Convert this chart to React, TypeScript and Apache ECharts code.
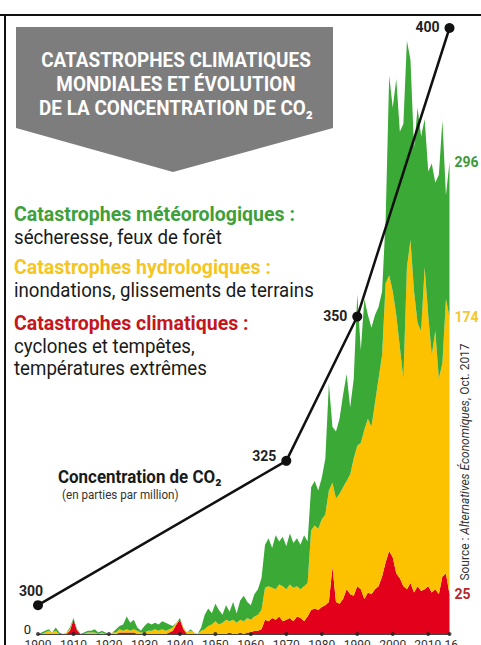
import React, { useEffect, useRef } from "react";
import * as echarts from "echarts";

const years: string[] = Array.from({ length: 117 }, (_, i) => String(1900 + i));

// Catastrophes climatiques (cyclones, tempêtes, températures extrêmes)
const climatiques = [
  0, 0, 0, 0, 0, 0, 0, 0, 0, 2,
  9, 2, 0, 0, 0, 0, 0, 0, 0, 0,
  0, 0, 0, 1, 1, 1, 1, 1, 0, 0,
  0, 0, 0, 0, 0, 0, 0, 1, 2, 6,
  9, 3, 0, 0, 0, 0, 0, 0, 0, 0,
  0, 0, 0, 0, 1, 0, 0, 1, 0, 1,
  1, 2, 2, 3, 9, 8, 10, 9, 11, 8,
  9, 10, 8, 11, 10, 8, 11, 15, 16, 15,
  17, 18, 20, 42, 20, 19, 22, 28, 25, 24,
  30, 28, 22, 26, 25, 28, 30, 36, 45, 52,
  48, 38, 35, 30, 28, 32, 26, 30, 27, 28,
  30, 26, 28, 25, 36, 38, 25,
];

// Catastrophes hydrologiques (inondations, glissements de terrains)
const hydrologiques = [
  0, 0, 1, 2, 1, 2, 0, 0, 1, 1,
  0, 0, 0, 0, 1, 1, 1, 0, 1, 0,
  0, 1, 1, 2, 1, 2, 1, 2, 2, 1,
  1, 2, 2, 3, 2, 3, 2, 2, 2, 1,
  0, 1, 1, 2, 1, 0, 2, 3, 5, 6,
  8, 6, 7, 9, 7, 9, 7, 8, 8, 9,
  8, 9, 10, 12, 20, 22, 19, 19, 20, 22,
  19, 21, 21, 19, 18, 22, 21, 50, 52, 51,
  55, 57, 70, 53, 65, 69, 70, 68, 75, 86,
  88, 92, 106, 109, 105, 117, 130, 139, 175, 173,
  167, 162, 145, 130, 202, 215, 189, 165, 163, 202,
  170, 149, 162, 135, 134, 172, 174,
];

// Catastrophes météorologiques (sécheresse, feux de forêt)
const meteorologiques = [
  0, 1, 1, 1, 0, 2, 1, 0, 0, 1,
  1, 1, 0, 1, 1, 1, 2, 1, 1, 1,
  0, 0, 2, 2, 4, 8, 5, 6, 2, 1,
  4, 5, 4, 4, 4, 5, 5, 3, 1, 0,
  1, 0, 0, 1, 0, 0, 2, 9, 11, 7,
  11, 9, 5, 9, 6, 11, 6, 12, 16, 10,
  9, 14, 16, 20, 27, 30, 25, 34, 27, 31,
  27, 32, 28, 30, 28, 32, 26, 27, 28, 24,
  26, 35, 67, 35, 42, 47, 58, 67, 42, 50,
  95, 58, 82, 65, 62, 55, 45, 40, 40, 125,
  115, 148, 135, 160, 142, 113, 90, 135, 122, 93,
  90, 120, 93, 128, 152, 65, 97,
];

// Concentration de CO2 (ppm)
const co2Years = ["1900", "1970", "1990", "2016"];
const co2Values = [300, 325, 350, 400];

const tickYears = ["1900", "1910", "1920", "1930", "1940", "1950", "1960", "1970", "1980", "1990", "2000", "2010", "2016"];

const GREEN = "#3aa935";
const YELLOW = "#fcc200";
const RED = "#e3001b";
const FF = "Roboto, 'Liberation Sans', sans-serif";

export default function App() {
  const ref = useRef<HTMLDivElement>(null);

  useEffect(() => {
    if (!ref.current) return;
    const chart = echarts.init(ref.current, null, { renderer: "svg" });
    const last = years.length - 1;
    const total = climatiques[last] + hydrologiques[last] + meteorologiques[last];

    const areaSeries = (name: string, data: number[], color: string, labelColor: string, labelText: string) => ({
      name,
      type: "line",
      stack: "cat",
      data,
      symbol: "none",
      smooth: false,
      lineStyle: { width: 0 },
      areaStyle: { color, opacity: 1 },
      itemStyle: { color },
      z: 2,
      endLabel: {
        show: true,
        formatter: () => labelText,
        color: labelColor,
        fontFamily: FF,
        fontWeight: "bold",
        fontSize: 14,
        distance: 5,
      },
    });

    const txt = (x: number, y: number, text: string, fill: string, font: string, sx: number) => ({
      type: "text",
      x,
      y,
      scaleX: sx,
      z: 21,
      style: { text, fill, font, verticalAlign: "middle" },
    });

    chart.setOption({
      animation: false,
      backgroundColor: "#ffffff",
      grid: { left: 38, right: 31.5, top: 28, bottom: 11, containLabel: false, outerBoundsMode: "none" },
      xAxis: {
        type: "category",
        data: years,
        boundaryGap: false,
        axisLine: { show: true, lineStyle: { color: "#444", width: 1.2 } },
        axisTick: { show: false },
        splitLine: { show: false },
        axisLabel: {
          interval: (idx: number, val: string) => Number(val) % 10 === 0,
          color: "#333",
          fontFamily: FF,
          fontSize: 12,
          margin: 5,
          formatter: (val: string) => (val === "2010" ? "{b|2010-16}" : val),
          rich: { b: { padding: [0, 0, 0, 16], color: "#333", fontFamily: FF, fontSize: 12 } },
        },
      },
      yAxis: [
        {
          type: "value",
          min: 0,
          max: 380,
          interval: 100,
          axisLine: { show: false },
          axisTick: { show: false },
          splitLine: { show: false },
          axisLabel: {
            formatter: (v: number) => (v === 0 ? "0" : ""),
            color: "#222",
            fontFamily: FF,
            fontSize: 13,
            margin: 7,
            verticalAlign: "bottom",
            lineHeight: 10,
          },
        },
        {
          type: "value",
          min: 295,
          max: 400,
          show: false,
          splitLine: { show: false },
        },
      ],
      series: [
        areaSeries("Catastrophes climatiques", climatiques, RED, "#b52a2a", String(climatiques[last])),
        areaSeries("Catastrophes hydrologiques", hydrologiques, YELLOW, "#f3c62c", String(hydrologiques[last])),
        areaSeries("Catastrophes météorologiques", meteorologiques, GREEN, "#3d9a38", String(total)),
        {
          name: "ticks",
          type: "scatter",
          data: tickYears.map((y) => [y, 0]),
          symbol: "circle",
          symbolSize: 4,
          itemStyle: { color: "#222" },
          z: 5,
          silent: true,
        },
        {
          name: "Concentration de CO2",
          type: "line",
          yAxisIndex: 1,
          clip: false,
          showSymbol: true,
          showAllSymbol: true,
          data: co2Years.map((y, i) => ({
            value: [y, co2Values[i]],
            label: i === 0
              ? { show: true, position: "top", offset: [-7, 3] }
              : { show: true, position: "left", distance: 5, offset: [0, i === 1 ? -5 : -1] },
          })),
          symbol: "circle",
          symbolSize: 10,
          lineStyle: { color: "#111", width: 2.5 },
          itemStyle: { color: "#111" },
          label: {
            show: true,
            formatter: (p: any) => String(p.value[1]),
            color: "#222",
            fontFamily: FF,
            fontWeight: "bold",
            fontSize: 14,
          },
          z: 10,
        },
      ],
      graphic: [
        // frame
        { type: "line", shape: { x1: 0, y1: 15, x2: 481, y2: 15 }, style: { stroke: "#111", lineWidth: 2 }, z: 20 },
        { type: "line", shape: { x1: 5, y1: 15, x2: 5, y2: 645 }, style: { stroke: "#111", lineWidth: 2 }, z: 20 },
        // title box
        {
          type: "polygon",
          shape: { points: [[16, 27], [333, 27], [333, 128], [173, 172], [16, 128]] },
          style: { fill: "#7d7d7d" },
          z: 20,
        },
        {
          type: "text",
          x: 176,
          y: 84,
          scaleX: 0.9,
          z: 21,
          style: {
            text: "CATASTROPHES CLIMATIQUES\nMONDIALES ET ÉVOLUTION\nDE LA CONCENTRATION DE CO₂",
            fill: "#ffffff",
            font: `bold 21px ${FF}`,
            lineHeight: 24,
            align: "center",
            verticalAlign: "middle",
          },
        },
        // legend texts
        txt(14, 214, "Catastrophes météorologiques :", "#3f9f3a", `bold 21px ${FF}`, 0.93),
        txt(14, 237, "sécheresse, feux de forêt", "#1a1a1a", `21px ${FF}`, 0.89),
        txt(14, 267, "Catastrophes hydrologiques :", "#f5c623", `bold 21px ${FF}`, 0.93),
        txt(14, 290, "inondations, glissements de terrains", "#1a1a1a", `21px ${FF}`, 0.89),
        txt(14, 323, "Catastrophes climatiques :", "#c4161c", `bold 21px ${FF}`, 0.93),
        txt(14, 346, "cyclones et tempêtes,", "#1a1a1a", `21px ${FF}`, 0.89),
        txt(14, 368, "températures extrêmes", "#1a1a1a", `21px ${FF}`, 0.89),
        // CO2 legend
        txt(58, 477, "Concentration de CO₂", "#1a1a1a", `bold 18px ${FF}`, 0.94),
        txt(62, 495, "(en parties par million)", "#333", `12px ${FF}`, 0.97),
        // source
        {
          type: "text",
          x: 464,
          y: 462,
          rotation: Math.PI / 2,
          scaleX: 0.92,
          z: 21,
          style: {
            text: "{n|Source : }{i|Alternatives Économiques}{n|, Oct. 2017}",
            align: "center",
            verticalAlign: "middle",
            rich: {
              n: { fill: "#333", font: `13px ${FF}` },
              i: { fill: "#333", font: `italic 13px ${FF}` },
            },
          },
        },
      ],
    });

    return () => chart.dispose();
  }, []);

  return (
    <div
      ref={ref}
      style={{ position: "fixed", left: 0, top: 0, width: 481, height: 645, background: "#fff" }}
    />
  );
}
